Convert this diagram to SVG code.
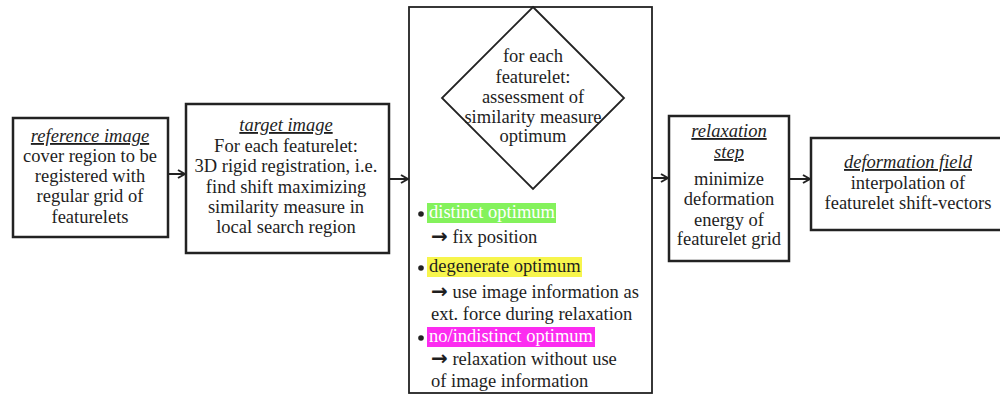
<svg xmlns="http://www.w3.org/2000/svg" width="1000" height="397" viewBox="0 0 1000 397">
<style>
.box{fill:#fff;stroke:#222;stroke-width:2.5}
.thin{fill:#fff;stroke:#222;stroke-width:1.8}
text{font-family:"Liberation Serif","Times New Roman",serif;font-size:18.5px;fill:#1e1e1e}
.c{text-anchor:middle}
.h{font-style:italic;text-decoration:underline}
.w{fill:#fff}
.ar{font-family:"DejaVu Sans",sans-serif;font-size:20px;font-weight:bold}
.conn{stroke:#222;stroke-width:2;fill:none}
</style>
<defs>
<marker id="arr" viewBox="0 0 10 10" refX="9" refY="5" markerWidth="10" markerHeight="10" markerUnits="userSpaceOnUse" orient="auto">
<path d="M2,1 L9,5 L2,9" fill="none" stroke="#222" stroke-width="2"/>
</marker>
</defs>
<rect width="1000" height="397" fill="#fff"/>
<g id="connectors">
<line class="conn" x1="168" y1="174" x2="185" y2="174" marker-end="url(#arr)"/>
<line class="conn" x1="389" y1="179" x2="408" y2="179" marker-end="url(#arr)"/>
<line class="conn" x1="652" y1="178" x2="668" y2="178" marker-end="url(#arr)"/>
<line class="conn" x1="789" y1="179" x2="810" y2="179" marker-end="url(#arr)"/>
</g>
<g id="reference-image">
<rect class="box" x="13" y="118" width="155" height="119"/>
<text class="c h" x="90" y="142">reference image</text>
<text class="c" x="90" y="162">cover region to be</text>
<text class="c" x="90" y="182">registered with</text>
<text class="c" x="90" y="202">regular grid of</text>
<text class="c" x="90" y="223">featurelets</text>
</g>
<g id="target-image">
<rect class="box" x="186" y="104" width="203" height="149"/>
<text class="c h" x="286" y="131">target image</text>
<text class="c" x="286" y="152">For each featurelet:</text>
<text class="c" x="286" y="172">3D rigid registration, i.e.</text>
<text class="c" x="286" y="193">find shift maximizing</text>
<text class="c" x="286" y="213">similarity measure in</text>
<text class="c" x="286" y="233">local search region</text>
</g>
<g id="assessment">
<rect class="thin" x="409" y="7" width="243" height="386"/>
<polygon points="533,7 624,98 533,189 442,98" fill="none" stroke="#222" stroke-width="1.8"/>
<text class="c" x="533" y="62">for each</text>
<text class="c" x="533" y="83">featurelet:</text>
<text class="c" x="533" y="103">assessment of</text>
<text class="c" x="533" y="123">similarity measure</text>
<text class="c" x="533" y="142">optimum</text>
<circle cx="421" cy="214" r="2.8" fill="#222"/>
<rect x="427" y="203" width="129" height="20" fill="#84f25c"/>
<text class="w" x="429" y="218">distinct optimum</text>
<text x="431" y="243"><tspan class="ar">→</tspan> fix position</text>
<circle cx="421" cy="268" r="2.8" fill="#222"/>
<rect x="427" y="257" width="155" height="20" fill="#f7f54c"/>
<text x="429" y="272">degenerate optimum</text>
<text x="431" y="298"><tspan class="ar">→</tspan> use image information as</text>
<text x="431" y="320">ext. force during relaxation</text>
<circle cx="421" cy="338" r="2.8" fill="#222"/>
<rect x="427" y="327" width="168" height="20" fill="#fc2cf0"/>
<text class="w" x="429" y="342">no/indistinct optimum</text>
<text x="431" y="365"><tspan class="ar">→</tspan> relaxation without use</text>
<text x="431" y="387">of image information</text>
</g>
<g id="relaxation-step">
<rect class="box" x="669" y="116" width="120" height="145"/>
<text class="c h" x="729" y="137">relaxation</text>
<text class="c h" x="729" y="158">step</text>
<text class="c" x="729" y="185">minimize</text>
<text class="c" x="729" y="205">deformation</text>
<text class="c" x="729" y="226">energy of</text>
<text class="c" x="729" y="245">featurelet grid</text>
</g>
<g id="deformation-field">
<rect class="box" x="811" y="138" width="196" height="92"/>
<text class="c h" x="908" y="168">deformation field</text>
<text class="c" x="908" y="189">interpolation of</text>
<text class="c" x="908" y="209">featurelet shift-vectors</text>
</g>
</svg>
